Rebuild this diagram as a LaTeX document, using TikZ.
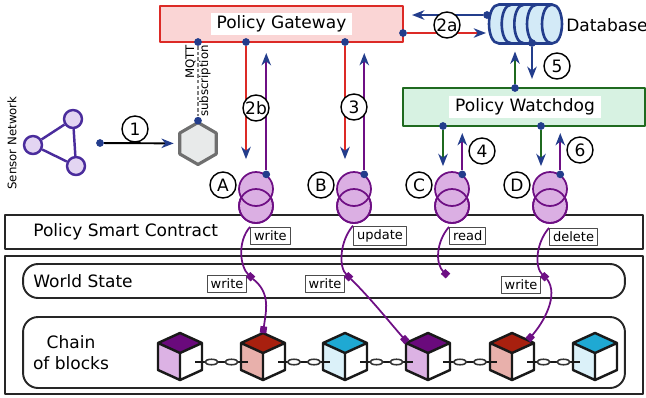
\documentclass[tikz,border=0pt]{standalone}
\usepackage{fontspec}
\setmainfont{DejaVu Sans}
\usetikzlibrary{arrows.meta,positioning,shapes.geometric}

\definecolor{gwred}{HTML}{DC2A26}
\definecolor{gwfill}{HTML}{FAD5D5}
\definecolor{wdgreen}{HTML}{1F6A1F}
\definecolor{wdfill}{HTML}{D7F2E2}
\definecolor{dbblue}{HTML}{233D8C}
\definecolor{dbfill}{HTML}{D3EAF7}
\definecolor{ccpurple}{HTML}{6E0F84}
\definecolor{ccfill}{HTML}{DBAFE3}
\definecolor{snpurple}{HTML}{4A2C9C}
\definecolor{snfill}{HTML}{E3D5F2}
\definecolor{hexgray}{HTML}{6F6F6F}
\definecolor{hexfill}{HTML}{E8EAEA}
\definecolor{plumtop}{HTML}{6A0A7C}
\definecolor{plumside}{HTML}{DCB2E4}
\definecolor{bricktop}{HTML}{A8200F}
\definecolor{brickside}{HTML}{E8B0AB}
\definecolor{cyantop}{HTML}{1FA9D3}
\definecolor{cyanside}{HTML}{DBF1F9}

\begin{document}
\begin{tikzpicture}[x=0.02cm,y=-0.02cm,line join=round,
  every node/.style={font=\fontsize{9.7}{12}\selectfont},
  bluetip/.style={-{Stealth[color=dbblue,length=7pt,width=5.4pt,inset=2.2pt]},line width=1.1pt},
  sq/.style={-{Square[color=ccpurple,length=3.8pt,width=3.8pt]},ccpurple,line width=1pt},
  bluedot/.style={circle,fill=dbblue,inner sep=0pt,minimum size=4.4pt},
  num/.style={circle,draw,fill=white,inner sep=0pt,minimum size=0.52cm,line width=0.8pt},
  plate/.style={fill=white,inner xsep=3.3pt,inner ysep=1.5pt},
  optag/.style={draw=black!70,fill=white,line width=0.6pt,inner xsep=2pt,inner ysep=2pt,
    font=\fontsize{7.4}{8}\selectfont},
  panel/.style={draw=black!85,line width=1.1pt,inner sep=0pt},
  coil/.style={circle,draw=ccpurple,fill=ccfill,line width=1pt,minimum size=0.68cm,inner sep=0pt},
  sensor/.style={circle,draw=snpurple,fill=snfill,line width=1.4pt,minimum size=0.36cm,inner sep=0pt}]
\useasboundingbox (0,0) rectangle (646,397);

% smart contract layer and ledger
\node[panel,minimum width=12.76cm,minimum height=0.68cm] (psc) at (324,232) {};
\node[inner sep=0pt,anchor=west] at (33,232) {Policy Smart Contract};
\node[panel,minimum width=12.76cm,minimum height=2.76cm] (ledger) at (324,325) {};
\node[panel,rounded corners=0.3cm,minimum width=12.04cm,minimum height=0.68cm] (ws) at (324,281) {};
\node[inner sep=0pt,anchor=west] at (33,281) {World State};
\node[panel,rounded corners=0.3cm,minimum width=12.04cm,minimum height=1.42cm] (chain) at (324,352.5) {};
\node[inner sep=0pt,align=center] at (71,353) {Chain\\of blocks};

% blocks
\foreach \i/\x/\c in {1/180/plum,2/263/brick,3/345/cyan,4/428/plum,5/512/brick,6/595/cyan}{
  \fill[\c side] (\x-22,343) -- (\x,353) -- (\x,380) -- (\x-22,370) -- cycle;
  \fill[white] (\x,353) -- (\x+22,343) -- (\x+22,370) -- (\x,380) -- cycle;
  \fill[\c top] (\x,333) -- (\x+22,343) -- (\x,353) -- (\x-22,343) -- cycle;
  \draw[black!90,line width=1.4pt] (\x,333) -- (\x+22,343) -- (\x+22,370) -- (\x,380)
    -- (\x-22,370) -- (\x-22,343) -- cycle
    (\x-22,343) -- (\x,353) -- (\x+22,343) (\x,353) -- (\x,380);
  \coordinate (blk\i) at (\x,333);
  \coordinate (blk\i l) at (\x-21,342);
  \coordinate (blk\i r) at (\x+16,340);
}
% links between blocks
\foreach \a/\b in {180/263,263/345,345/428,428/512,512/595}{
  \draw[black!90,line width=1.3pt] (\a+15,362) -- (\b-15,362);
  \draw[black!80,line width=0.9pt,fill=white]
    ({(\a+\b)/2-10},362) ellipse[x radius=0.13cm,y radius=0.055cm]
    ({(\a+\b)/2+10},362) ellipse[x radius=0.13cm,y radius=0.055cm];
}

% chaincode operations A-D
\foreach \n/\x in {A/256,B/354,C/452,D/550}{
  \node[coil] (cc\n low) at (\x,206) {};
  \node[coil] (cc\n) at (\x,189) {};
  \draw[ccpurple,line width=1pt] (cc\n low.center) circle[radius=0.34cm];
  \node[num] at (\x-33,185) {\n};
  \node[bluedot] (pt\n) at (cc\n.55) {};
}
\node[optag,anchor=west] (opA) at (250,236) {write};
\node[optag,anchor=west] (opB) at (353,236) {update};
\node[optag,anchor=west] (opC) at (449,236) {read};
\node[optag,anchor=west] (opD) at (549,237) {delete};

% world state entries
\coordinate (wsA) at (253,279);
\coordinate (wsB) at (351,279);
\coordinate (wsC) at (448,276);
\coordinate (wsD) at (547,279);
\node[optag] at (227,284) {write};
\node[optag] at (325,284) {write};
\node[optag] at (521,285) {write};
\foreach \n in {A,B,C,D}
  \draw[sq] (op\n.north west) .. controls +(-13,15) and +(-13,-12) .. (ws\n);
\draw[sq] (wsA) .. controls +(18,14) and +(3,-22) .. (blk2);
\draw[sq] (wsB) .. controls +(22,22) and +(-16,-18) .. (blk4l);
\draw[sq] (wsD) .. controls +(12,16) and +(16,-18) .. (blk5r);

% policy gateway
\node[draw=gwred,fill=gwfill,line width=1.2pt,minimum width=4.86cm,minimum height=0.72cm] (gw) at (281.5,24) {};
\node[plate] at (gw) {Policy Gateway};
\node[bluedot] (gwM) at (198,42) {};
\node[bluedot] (gwA) at (246,42) {};
\node[bluedot] (gwB) at (345,42) {};
\node[bluedot] (gwR) at (403,33) {};

% policy watchdog
\node[draw=wdgreen,fill=wdfill,line width=1.2pt,minimum width=4.84cm,minimum height=0.76cm] (wd) at (524,107) {};
\node[plate] at (525,107) {Policy Watchdog};
\node[bluedot] (wdT) at (515,88) {};
\node[bluedot] (wdC) at (443,126) {};
\node[bluedot] (wdD) at (541,126) {};

% database
\foreach \a in {499,511.7,524.3,537}{
  \filldraw[dbblue,fill=dbfill,line width=1.5pt]
    (\a,4.5) -- (\a+15,4.5) .. controls (\a+28.3,4.5) and (\a+28.3,43.5) .. (\a+15,43.5)
    -- (\a,43.5) .. controls (\a-13.3,43.5) and (\a-13.3,4.5) .. (\a,4.5) -- cycle;
  \draw[dbblue,line width=1.5pt] (\a+15,4.5) .. controls (\a+1.7,4.5) and (\a+1.7,43.5) .. (\a+15,43.5);
}
\node[inner sep=0pt,anchor=west] (dbname) at (566,25) {Database};
\node[bluedot] (dbL) at (487,15) {};
\node[bluedot] (dbB) at (532,43) {};
\coordinate (dbin) at (486,33);

% sensor network and MQTT hub
\node[sensor] (s1) at (33,145) {};
\node[sensor] (s2) at (73,119) {};
\node[sensor] (s3) at (76,166) {};
\draw[snpurple,line width=1.4pt] (s1) -- (s2) -- (s3) -- (s1);
\node[rotate=90,font=\fontsize{6.7}{8}\selectfont] at (12,143) {Sensor Network};
\node[regular polygon,regular polygon sides=6,shape border rotate=30,draw=hexgray,fill=hexfill,
  line width=1.8pt,minimum size=0.84cm,inner sep=0pt] (hub) at (198,143.5) {};
\node[bluedot] (hubT) at (hub.north) {};
\node[bluedot] (snout) at (100,143) {};
\draw[bluetip,shorten >=0.09cm] (snout) -- (hub);
\node[num] at (135,129) {1};
\draw[gray,line width=0.8pt,dash pattern=on 2pt off 1.2pt] (gwM) -- (hubT);
\node[rotate=90,align=right,inner sep=0pt,font=\fontsize{6.7}{8}\selectfont] at (198,81) {MQTT\\subscription};

% gateway <-> contract
\foreach \n in {A,B}{
  \draw[bluetip,gwred,shorten >=0.24cm] (gw\n) -- (gw\n |- cc\n.north);
  \draw[bluetip,ccpurple,shorten >=0.2cm] (pt\n) -- (pt\n |- gw.south);
}
\node[num] at (256,108) {2b};
\node[num] at (354,107) {3};

% watchdog <-> contract
\foreach \n in {C,D}{
  \draw[bluetip,wdgreen,shorten >=0.1cm] (wd\n) -- (wd\n |- cc\n.north);
  \draw[bluetip,ccpurple,shorten >=0.12cm] (pt\n) -- (pt\n |- wd.south);
}
\node[num] at (482,151) {4};
\node[num] at (580,150) {6};

% gateway/watchdog <-> database
\draw[bluetip,dbblue,shorten >=0.16cm] (dbL) -- (dbL -| gw.east);
\draw[bluetip,gwred] (gwR) -- (dbin);
\node[num] at (447,25) {2a};
\draw[bluetip,dbblue,shorten >=0.16cm] (dbB) -- (dbB |- wd.north);
\draw[bluetip,wdgreen,shorten >=0.17cm] (wdT) -- (wdT |- dbB);
\node[num] at (557,66) {5};
\end{tikzpicture}
\end{document}
